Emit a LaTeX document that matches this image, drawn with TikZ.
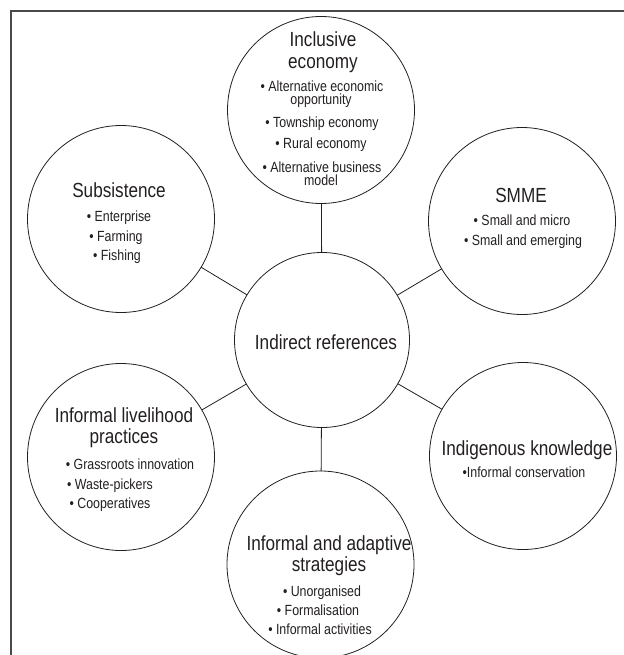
\documentclass[tikz,border=0pt]{standalone}
\usepackage{fontspec}
\setmainfont{Liberation Sans}[FakeStretch=0.84]
\definecolor{ink}{HTML}{231F20}
\definecolor{framec}{HTML}{4A4A4A}
\tikzset{
  circ/.style={draw=ink, line width=0.8bp, circle, inner sep=0pt, outer sep=0pt},
  outer/.style={circ, minimum size=187bp},
  conn/.style={draw=ink, line width=0.8bp},
  ttl/.style={anchor=base, inner sep=0pt, text=ink, font=\fontsize{20.5}{24}\selectfont},
  itm/.style={anchor=base, inner sep=0pt, text=ink, font=\fontsize{14.8}{17}\selectfont},
}
\begin{document}
\begin{tikzpicture}[x=1bp, y=-1bp]
\useasboundingbox (0,0) rectangle (624,655);
\clip (0,0) rectangle (624,655);
\draw[framec, line width=1.2bp] (11,660) -- (11,11) -- (630,11);

% circles
\node[circ, minimum size=175bp] (c0) at (322,340) {};
\node[outer] (c1) at (321,110) {};
\node[outer] (c2) at (522,221) {};
\node[outer] (c3) at (523,456) {};
\node[outer] (c4) at (320.5,564.5) {};
\node[outer] (c5) at (121,457) {};
\node[outer] (c6) at (121,219) {};

% connectors
\draw[conn] (c0) -- (c1);
\draw[conn] (c0) -- (c2);
\draw[conn] (c0) -- (c3);
\draw[conn] (c0) -- (c4);
\draw[conn] (c0) -- (c5);
\draw[conn] (c0) -- (c6);

% centre
\node[ttl] (t0) at (326,349) {Indirect references};

% top
\node[ttl] (t1a) at (323,47) {Inclusive};
\node[ttl] (t1b) at (323,69) {economy};
\node[itm] (t1c) at (322,92) {• Alternative economic};
\node[itm] (t1d) at (321,105) {opportunity};
\node[itm] (t1e) at (322,128) {• Township economy};
\node[itm] (t1f) at (321,148) {• Rural economy};
\node[itm] (t1g) at (322,172) {• Alternative business};
\node[itm] (t1h) at (321,185) {model};

% SMME
\node[ttl] (t2a) at (521,202) {SMME};
\node[itm] (t2b) at (522,225) {• Small and micro};
\node[itm] (t2c) at (523,245) {• Small and emerging};

% Indigenous
\node[ttl] (t3a) at (527,455) {Indigenous knowledge};
\node[itm] (t3b) at (524,477) {•Informal conservation};

% bottom
\node[ttl] (t4a) at (329,550) {Informal and adaptive};
\node[ttl] (t4b) at (329,571) {strategies};
\node[itm] (t4c) at (322,596) {• Unorganised};
\node[itm] (t4d) at (318,615) {• Formalisation};
\node[itm] (t4e) at (320,634) {• Informal activities};

% livelihood
\node[ttl] (t5a) at (124,422) {Informal livelihood};
\node[ttl] (t5b) at (124,443) {practices};
\node[itm] (t5c) at (130,469) {• Grassroots innovation};
\node[itm] (t5d) at (110,489) {• Waste-pickers};
\node[itm] (t5e) at (110,508) {• Cooperatives};

% subsistence
\node[ttl] (t6a) at (119,197) {Subsistence};
\node[itm] (t6b) at (119,221) {• Enterprise};
\node[itm] (t6c) at (116,241) {• Farming};
\node[itm] (t6d) at (117,260) {• Fishing};
\end{tikzpicture}
\end{document}
